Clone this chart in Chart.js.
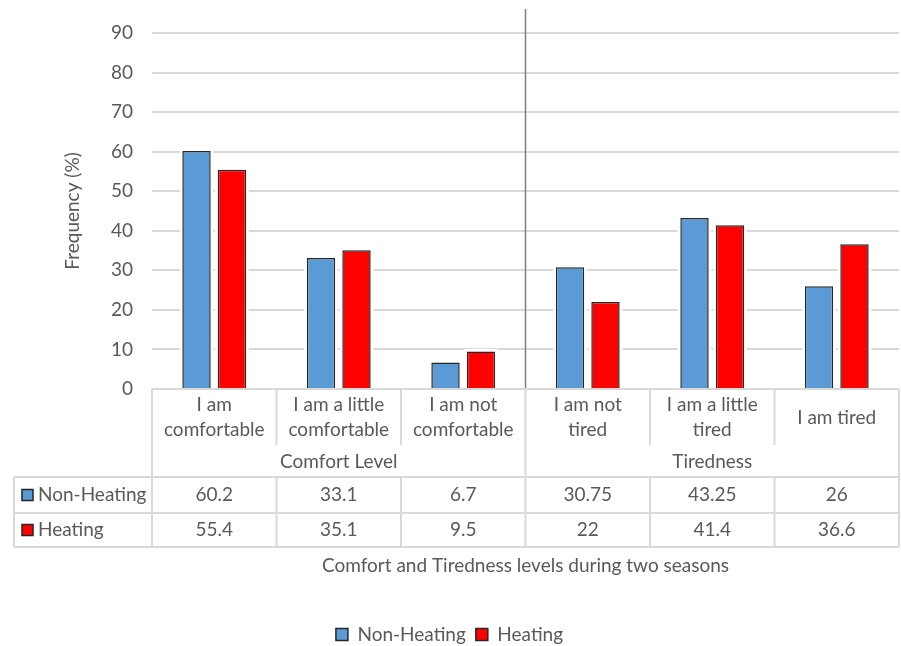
<!DOCTYPE html>
<html>
<head>
<meta charset="utf-8">
<script src="https://cdn.jsdelivr.net/npm/chart.js@4.4.1/dist/chart.umd.min.js"></script>
<style>
  html, body { margin: 0; padding: 0; background: #ffffff; }
  #wrap { width: 901px; height: 646px; }
</style>
</head>
<body>
<div id="wrap"><canvas id="c" width="901" height="646"></canvas></div>
<script>
// Category labels (multi-line) and their grouping
const categories = [
  ["I am", "comfortable"],
  ["I am a little", "comfortable"],
  ["I am not", "comfortable"],
  ["I am not", "tired"],
  ["I am a little", "tired"],
  ["I am tired"]
];
const groups = ["Comfort Level", "Tiredness"];
const groupSizes = [3, 3];

// Series values (%)
const seriesNames = ["Non-Heating", "Heating"];
const nonHeating = [60.2, 33.1, 6.7, 30.75, 43.25, 26];
const heating = [55.4, 35.1, 9.5, 22, 41.4, 36.6];

// Value axis
const yMin = 0;
const yMax = 90;
const yStep = 10;

const axisTitleX = "Comfort and Tiredness levels during two seasons";
const axisTitleY = "Frequency (%)";

const FONT = "Lato, 'Liberation Sans', sans-serif";
const FONT_SIZE = 19;
const TEXT = "#595959";
const GRID = "#d9d9d9";
const COLORS = ["#5b9bd5", "#ff0000"];
const BORDER = "#262626";

// Offsets of the table rows below the plot bottom
const ROW = { header: 56, group: 88, row1: 124, row2: 158 };
const TABLE_LEFT = 14;

function seg(ctx, x1, y1, x2, y2) {
  ctx.beginPath();
  ctx.moveTo(x1, y1);
  ctx.lineTo(x2, y2);
  ctx.stroke();
}

const dataTable = {
  id: "dataTable",
  beforeInit(chart) {
    // pull the legend row a little closer to the canvas bottom
    const lg = chart.legend;
    if (lg && !lg._shrunk) {
      const fit = lg.fit.bind(lg);
      lg.fit = function () { fit(); this.height -= 8; };
      lg._shrunk = true;
    }
  },
  beforeDatasetsDraw(chart) {
    // thin white halo around each bar
    const ctx = chart.ctx;
    ctx.save();
    ctx.fillStyle = "#ffffff";
    chart.data.datasets.forEach((ds, i) => {
      chart.getDatasetMeta(i).data.forEach(bar => {
        const w = bar.width;
        ctx.fillRect(bar.x - w / 2 - 2.5, bar.y - 2.5, w + 5, bar.base - bar.y + 1.5);
      });
    });
    ctx.restore();
  },
  afterDraw(chart) {
    const { ctx, chartArea: a, scales: { x } } = chart;
    const n = categories.length;
    const edge = i => x.getPixelForValue(i - 0.5);
    const y0 = a.bottom;

    // boundaries between groups
    const groupEdges = [0];
    groupSizes.forEach(s => groupEdges.push(groupEdges[groupEdges.length - 1] + s));

    ctx.save();

    // divider between the two groups inside the plot
    ctx.strokeStyle = "#7f7f7f";
    ctx.lineWidth = 1.5;
    for (let g = 1; g < groupEdges.length - 1; g++) {
      const gx = edge(groupEdges[g]);
      seg(ctx, gx, 9, gx, y0);
    }

    // table grid
    ctx.strokeStyle = GRID;
    ctx.lineWidth = 2;
    seg(ctx, edge(0), y0, edge(n), y0);
    for (let i = 0; i <= n; i++) {
      const ex = edge(i);
      const full = groupEdges.includes(i);
      seg(ctx, ex, y0, ex, y0 + (full ? ROW.row2 : ROW.header));
      if (!full) seg(ctx, ex, y0 + ROW.group, ex, y0 + ROW.row2);
    }
    [ROW.group, ROW.row1, ROW.row2].forEach(r => seg(ctx, TABLE_LEFT, y0 + r, edge(n), y0 + r));
    seg(ctx, TABLE_LEFT, y0 + ROW.group, TABLE_LEFT, y0 + ROW.row2);

    ctx.font = `${FONT_SIZE}px ${FONT}`;
    ctx.fillStyle = TEXT;
    ctx.textAlign = "center";
    ctx.textBaseline = "middle";

    // category labels
    const lineGap = 25;
    const headerMid = y0 + 28.5;
    categories.forEach((lines, i) => {
      const cx = x.getPixelForValue(i);
      const startY = headerMid - (lines.length - 1) * lineGap / 2;
      lines.forEach((t, k) => ctx.fillText(t, cx, startY + k * lineGap));
    });

    // group labels
    groups.forEach((g, gi) => {
      const cx = (edge(groupEdges[gi]) + edge(groupEdges[gi + 1])) / 2;
      ctx.fillText(g, cx, y0 + 73);
    });

    // value rows
    const rowsY = [y0 + (ROW.group + ROW.row1) / 2, y0 + (ROW.row1 + ROW.row2) / 2];
    chart.data.datasets.forEach((ds, di) => {
      const ry = rowsY[di];
      ds.data.forEach((v, i) => ctx.fillText(String(v), x.getPixelForValue(i), ry));
      // legend key for the row
      ctx.fillStyle = ds.backgroundColor;
      ctx.fillRect(22, ry - 5.5, 11, 11);
      ctx.strokeStyle = BORDER;
      ctx.lineWidth = 1.5;
      ctx.strokeRect(22, ry - 5.5, 11, 11);
      ctx.fillStyle = TEXT;
      ctx.textAlign = "left";
      ctx.fillText(ds.label, 38, ry);
      ctx.textAlign = "center";
    });

    // axis titles
    ctx.fillText(axisTitleX, (a.left + a.right) / 2, y0 + 177);
    ctx.save();
    ctx.translate(73, (a.top + a.bottom) / 2);
    ctx.rotate(-Math.PI / 2);
    ctx.fillText(axisTitleY, 0, 0);
    ctx.restore();

    ctx.restore();
  }
};

new Chart(document.getElementById("c"), {
  type: "bar",
  data: {
    labels: categories.map(l => l.join(" ")),
    datasets: [
      { label: seriesNames[0], data: nonHeating, backgroundColor: COLORS[0], borderColor: BORDER, borderWidth: 1.5 },
      { label: seriesNames[1], data: heating, backgroundColor: COLORS[1], borderColor: BORDER, borderWidth: 1.5 }
    ]
  },
  options: {
    responsive: false,
    animation: false,
    devicePixelRatio: 1,
    layout: { padding: { top: 33, right: 2, bottom: 0, left: 0 } },
    datasets: { bar: { categoryPercentage: 0.57, barPercentage: 0.8 } },
    plugins: {
      legend: {
        position: "bottom",
        labels: {
          boxWidth: 12,
          boxHeight: 12,
          padding: 10,
          color: TEXT,
          font: { family: FONT, size: FONT_SIZE }
        }
      },
      tooltip: { enabled: false }
    },
    scales: {
      x: {
        grid: { display: false },
        border: { display: false },
        ticks: { display: false },
        afterFit(scale) { scale.height = 226; }
      },
      y: {
        min: yMin,
        max: yMax,
        border: { display: false },
        grid: { color: GRID, lineWidth: 2, drawTicks: false },
        ticks: {
          stepSize: yStep,
          padding: 19,
          color: TEXT,
          font: { family: FONT, size: FONT_SIZE }
        },
        afterFit(scale) { scale.width = 152; }
      }
    }
  },
  plugins: [dataTable]
});
</script>
</body>
</html>
